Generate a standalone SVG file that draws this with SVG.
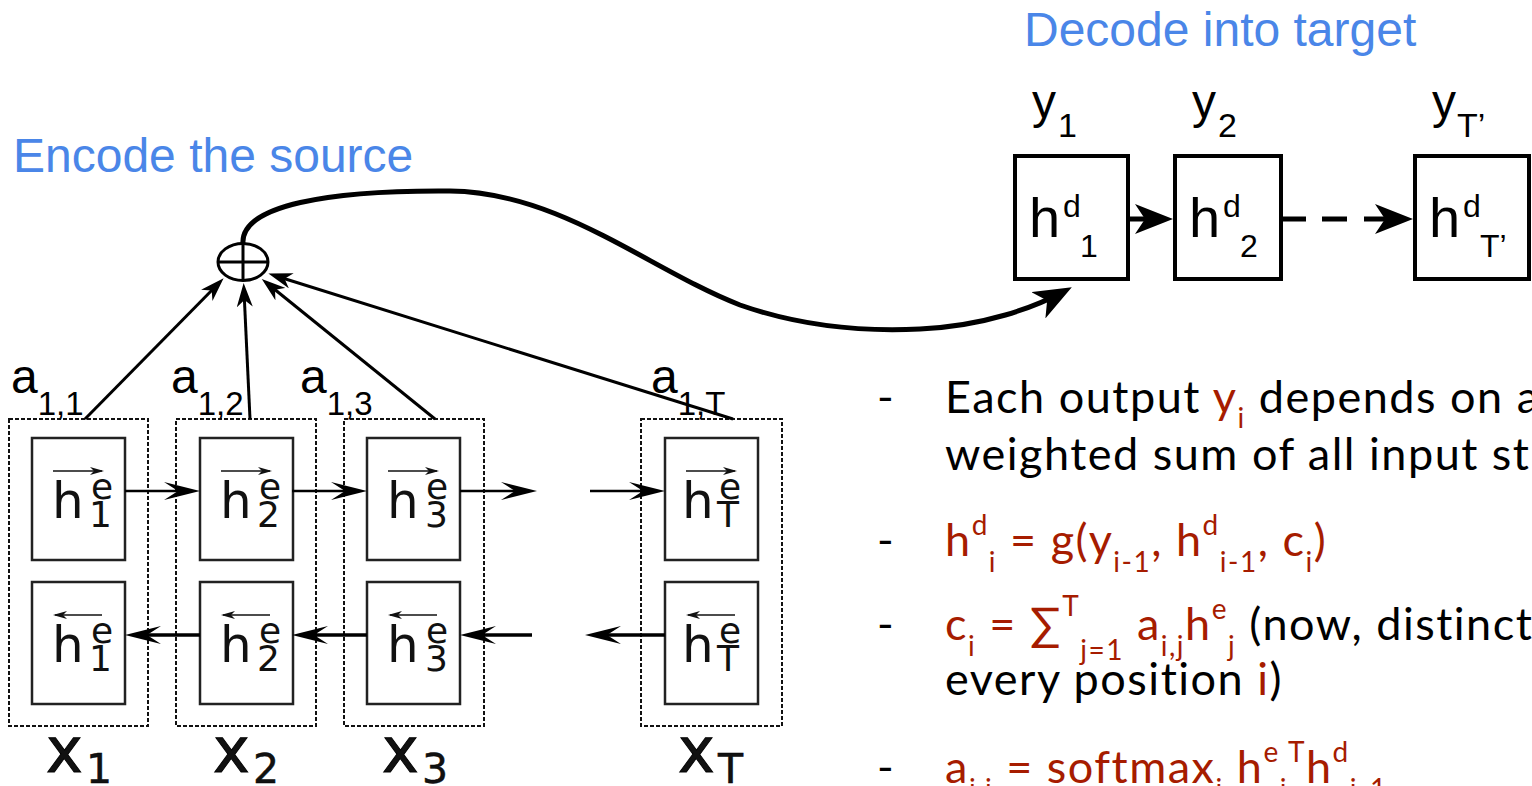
<svg xmlns="http://www.w3.org/2000/svg" width="1532" height="786" viewBox="0 0 1532 786">
<style>
.title{font-family:"Liberation Sans",Arial,sans-serif;font-size:48px;fill:#4a86e8}
.lbl{font-family:"Liberation Sans",Arial,sans-serif;fill:#000}
.enc{font-family:"DejaVu Sans",sans-serif;fill:#111}
.outer{fill:none;stroke:#111;stroke-width:2;stroke-dasharray:4 2}
.cell{fill:#fff;stroke:#222;stroke-width:2.5}
.dcell{fill:#fff;stroke:#000;stroke-width:4}
.bul{font-family:Lato,"Open Sans",sans-serif;font-size:45px;letter-spacing:1.5px;fill:#000}
.red{fill:#a61c00}
.fw{stroke:#000;stroke-width:2.5;fill:none;marker-end:url(#mh)}
.bw{stroke:#000;stroke-width:3.5;fill:none;marker-end:url(#mh)}
.sum{stroke:#000;stroke-width:3;fill:none;marker-end:url(#ms)}
.ov{stroke:#111;stroke-width:1.5;fill:none;marker-end:url(#mo)}
</style>
<defs>
<marker id="mh" markerUnits="userSpaceOnUse" viewBox="0 0 36 18" markerWidth="36" markerHeight="18" refX="26" refY="9" orient="auto"><path d="M0,0 L36,9 L0,18 L14,9 Z" fill="#000"/></marker>
<marker id="ms" markerUnits="userSpaceOnUse" viewBox="0 0 24 16" markerWidth="24" markerHeight="16" refX="16" refY="8" orient="auto"><path d="M0,0 L24,8 L0,16 L7,8 Z" fill="#000"/></marker>
<marker id="mb" markerUnits="userSpaceOnUse" viewBox="0 0 38 30" markerWidth="38" markerHeight="30" refX="28" refY="15" orient="auto"><path d="M0,0 L38,15 L0,30 L10,15 Z" fill="#000"/></marker>
<marker id="mo" markerUnits="userSpaceOnUse" viewBox="0 0 14 8" markerWidth="14" markerHeight="8" refX="12" refY="4" orient="auto"><path d="M0,0 L14,4 L0,8 L4,4 Z" fill="#111"/></marker>
<g id="cellF"><rect class="cell" x="0" y="0" width="93" height="122"/><path class="ov" d="M21,33 H70"/></g>
<g id="cellB"><rect class="cell" x="0" y="0" width="93" height="122"/><path class="ov" d="M70,33 H23"/></g>
</defs>
<rect width="1532" height="786" fill="#fff"/>

<text class="title" x="13" y="172">Encode the source</text>
<text class="title" x="1024" y="46">Decode into target</text>

<g id="enc1">
<rect class="outer" x="9" y="419" width="139" height="307"/>
<use href="#cellF" x="32" y="438"/><use href="#cellB" x="32" y="582"/>
<text class="enc" x="52" y="518" font-size="50">h<tspan x="91" y="499" font-size="36">e</tspan><tspan x="89" y="527" font-size="36">1</tspan></text>
<text class="enc" x="52" y="662" font-size="50">h<tspan x="91" y="643" font-size="36">e</tspan><tspan x="89" y="671" font-size="36">1</tspan></text>
<text class="enc" x="46" y="772" font-size="62" stroke="#000" stroke-width="1">x<tspan x="86" y="783" font-size="41" stroke-width="0.5">1</tspan></text>
<text class="lbl" x="11" y="393" font-size="48">a<tspan y="415" font-size="33">1,1</tspan></text>
</g>
<g id="enc2">
<rect class="outer" x="176" y="419" width="140" height="307"/>
<use href="#cellF" x="200" y="438"/><use href="#cellB" x="200" y="582"/>
<text class="enc" x="220" y="518" font-size="50">h<tspan x="259" y="499" font-size="36">e</tspan><tspan x="257" y="527" font-size="36">2</tspan></text>
<text class="enc" x="220" y="662" font-size="50">h<tspan x="259" y="643" font-size="36">e</tspan><tspan x="257" y="671" font-size="36">2</tspan></text>
<text class="enc" x="213" y="772" font-size="62" stroke="#000" stroke-width="1">x<tspan x="253" y="783" font-size="41" stroke-width="0.5">2</tspan></text>
<text class="lbl" x="171" y="393" font-size="48">a<tspan y="415" font-size="33">1,2</tspan></text>
</g>
<g id="enc3">
<rect class="outer" x="344" y="419" width="140" height="307"/>
<use href="#cellF" x="367" y="438"/><use href="#cellB" x="367" y="582"/>
<text class="enc" x="387" y="518" font-size="50">h<tspan x="426" y="499" font-size="36">e</tspan><tspan x="425" y="527" font-size="36">3</tspan></text>
<text class="enc" x="387" y="662" font-size="50">h<tspan x="426" y="643" font-size="36">e</tspan><tspan x="425" y="671" font-size="36">3</tspan></text>
<text class="enc" x="382" y="772" font-size="62" stroke="#000" stroke-width="1">x<tspan x="422" y="783" font-size="41" stroke-width="0.5">3</tspan></text>
<text class="lbl" x="300" y="393" font-size="48">a<tspan y="415" font-size="33">1,3</tspan></text>
</g>
<g id="encT">
<rect class="outer" x="641" y="419" width="141" height="307"/>
<use href="#cellF" x="665" y="438"/><use href="#cellB" x="665" y="582"/>
<text class="enc" x="682" y="518" font-size="50">h<tspan x="719" y="499" font-size="36">e</tspan><tspan x="717" y="527" font-size="36">T</tspan></text>
<text class="enc" x="682" y="662" font-size="50">h<tspan x="719" y="643" font-size="36">e</tspan><tspan x="717" y="671" font-size="36">T</tspan></text>
<text class="enc" x="678" y="772" font-size="62" stroke="#000" stroke-width="1">x<tspan x="718" y="783" font-size="41" stroke-width="0.5">T</tspan></text>
<text class="lbl" x="651" y="393" font-size="48">a<tspan y="415" font-size="33">1,T</tspan></text>
</g>

<g id="oplus">
<ellipse cx="243" cy="262" rx="25" ry="18.5" fill="#fff" stroke="#000" stroke-width="3"/>
<path d="M243,243.5 V280.5 M218,262 H268" stroke="#000" stroke-width="3"/>
</g>

<g id="dec1">
<rect class="dcell" x="1015" y="156" width="113" height="123"/>
<text class="lbl" x="1029" y="237" font-size="56">h<tspan x="1063" y="217" font-size="32">d</tspan><tspan x="1080" y="257" font-size="32">1</tspan></text>
<text class="lbl" x="1032" y="118" font-size="48">y<tspan x="1058" y="137" font-size="34">1</tspan></text>
</g>
<g id="dec2">
<rect class="dcell" x="1175" y="156" width="106" height="123"/>
<text class="lbl" x="1189" y="237" font-size="56">h<tspan x="1223" y="217" font-size="32">d</tspan><tspan x="1240" y="257" font-size="32">2</tspan></text>
<text class="lbl" x="1192" y="118" font-size="48">y<tspan x="1218" y="137" font-size="34">2</tspan></text>
</g>
<g id="decT">
<rect class="dcell" x="1415" y="156" width="114" height="123"/>
<text class="lbl" x="1429" y="237" font-size="56">h<tspan x="1463" y="217" font-size="32">d</tspan><tspan x="1480" y="257" font-size="32">T’</tspan></text>
<text class="lbl" x="1432" y="118" font-size="48">y<tspan x="1457" y="137" font-size="34">T’</tspan></text>
</g>

<g id="connectors">
<path class="fw" d="M125,491 H190"/>
<path class="fw" d="M292,491 H357"/>
<path class="fw" d="M460,491 H527"/>
<path class="fw" d="M590,491 H655"/>
<path class="bw" d="M200,635 H135"/>
<path class="bw" d="M367,635 H302"/>
<path class="bw" d="M532,635 H470"/>
<path class="bw" d="M665,635 H595"/>
<path class="sum" d="M85,419 L218,284"/>
<path class="sum" d="M250,419 L244,291"/>
<path class="sum" d="M435,419 L268,284"/>
<path class="sum" d="M733,419 L276,276"/>
<path d="M243,244 C240,205 330,190 450,191 C560,192 650,270 740,305 C800,326 860,332 920,329 C985,326 1035,307 1063,292" fill="none" stroke="#000" stroke-width="5" marker-end="url(#mb)"/>
<path d="M1128,219 H1163" fill="none" stroke="#000" stroke-width="5" marker-end="url(#mb)"/>
<path d="M1281,219 H1403" fill="none" stroke="#000" stroke-width="5" stroke-dasharray="25 16 25 17 80" marker-end="url(#mb)"/>
</g>

<g id="bullets">
<text class="bul" x="877" y="413">-</text>
<text class="bul" x="945" y="413">Each output <tspan class="red">y</tspan><tspan class="red" y="428" font-size="28">i</tspan><tspan y="413"> depends on a</tspan></text>
<text class="bul" x="945" y="470">weighted sum of all input st</text>
<text class="bul" x="877" y="556">-</text>
<text class="bul red" x="945" y="556">h<tspan y="535" font-size="28">d</tspan><tspan y="572" font-size="28">i</tspan><tspan y="556"> = g(y</tspan><tspan y="572" font-size="28">i-1</tspan><tspan y="556">, h</tspan><tspan y="535" font-size="28">d</tspan><tspan y="572" font-size="28">i-1</tspan><tspan y="556">, c</tspan><tspan y="572" font-size="28">i</tspan><tspan y="556">)</tspan></text>
<text class="bul" x="877" y="640">-</text>
<text class="bul" x="945" y="640"><tspan class="red">c</tspan><tspan class="red" y="656" font-size="28">i</tspan><tspan class="red" y="640"> = ∑</tspan><tspan class="red" y="616" font-size="28">T</tspan><tspan class="red" y="660" font-size="28">j=1</tspan><tspan class="red" y="640"> a</tspan><tspan class="red" y="656" font-size="28">i,j</tspan><tspan class="red" y="640">h</tspan><tspan class="red" y="619" font-size="28">e</tspan><tspan class="red" y="656" font-size="28">j</tspan><tspan y="640"> (now, distinct</tspan></text>
<text class="bul" x="945" y="695">every position <tspan class="red">i</tspan>)</text>
<text class="bul" x="877" y="783">-</text>
<text class="bul red" x="945" y="783">a<tspan y="799" font-size="28">i,j</tspan><tspan y="783"> = softmax</tspan><tspan y="799" font-size="28">j</tspan><tspan y="783"> h</tspan><tspan y="762" font-size="28">e</tspan><tspan y="799" font-size="28">j</tspan><tspan y="762" font-size="28">T</tspan><tspan y="783">h</tspan><tspan y="762" font-size="28">d</tspan><tspan y="799" font-size="28">i-1</tspan></text>
</g>
</svg>
